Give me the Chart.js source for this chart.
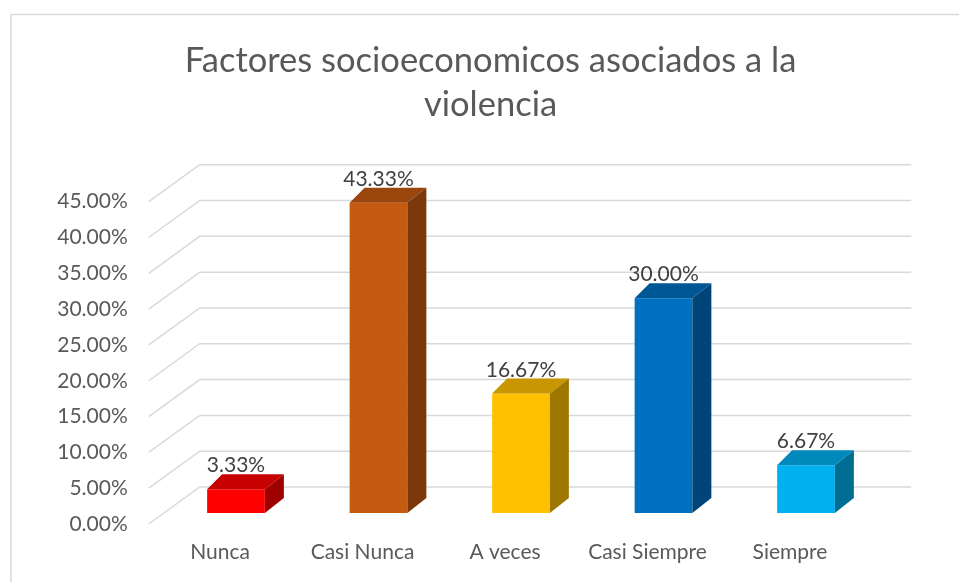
<!DOCTYPE html>
<html>
<head>
<meta charset="utf-8">
<script src="https://cdn.jsdelivr.net/npm/chart.js@4.4.1/dist/chart.umd.min.js"></script>
<style>
  body { margin: 0; background: #fff; }
  .chart-box { width: 959px; height: 582px; position: relative; }
</style>
</head>
<body>
<div class="chart-box"><canvas id="canvas"></canvas></div>
<script>
const categories = ['Nunca', 'Casi Nunca', 'A veces', 'Casi Siempre', 'Siempre'];
const percentages = [3.33, 43.33, 16.67, 30.00, 6.67];
const yMax = 45;
const yStep = 5;
const titleLines = ['Factores socioeconomicos asociados a la', 'violencia'];

const barColors = ['#FF0000', '#C55A11', '#FFC000', '#0070C0', '#00B0F0'];

// 3D look (pixels)
const DEPTH_DY = 15;
const DEPTH_DX_L = 15;
const DEPTH_DX_R = 19;
const FRONT_DX = -16;
const FRONT_DY = 11;
const WALL_DX = 51;
const WALL_DY = 37;
const WALL_RIGHT = 34;

function shade(hex, f) {
    const n = parseInt(hex.slice(1), 16);
    const r = Math.round(((n >> 16) & 255) * f);
    const g = Math.round(((n >> 8) & 255) * f);
    const b = Math.round((n & 255) * f);
    return `rgb(${r},${g},${b})`;
}

const frame3d = {
    id: 'frame3d',
    beforeDraw(chart) {
        const ctx = chart.ctx;
        ctx.save();
        ctx.strokeStyle = '#D9D9D9';
        ctx.lineWidth = 1.5;
        ctx.strokeRect(11, 14.5, 1200, 1200);
        ctx.restore();
    },
    beforeDatasetsDraw(chart) {
        const ctx = chart.ctx;
        const area = chart.chartArea;
        const scale = chart.scales.y;
        ctx.save();
        ctx.strokeStyle = '#D9D9D9';
        ctx.lineWidth = 1.5;
        scale.ticks.forEach(t => {
            const y = scale.getPixelForValue(t.value) + FRONT_DY;
            const x0 = area.left + FRONT_DX;
            ctx.beginPath();
            ctx.moveTo(x0, y);
            ctx.lineTo(x0 + WALL_DX, y - WALL_DY);
            ctx.lineTo(area.right + WALL_RIGHT, y - WALL_DY);
            ctx.stroke();
        });
        ctx.restore();
    },
    afterDatasetsDraw(chart) {
        const ctx = chart.ctx;
        const meta = chart.getDatasetMeta(0);
        ctx.save();
        meta.data.forEach((bar, i) => {
            const p = bar.getProps(['x', 'y', 'base', 'width'], true);
            const L = p.x - p.width / 2;
            const R = p.x + p.width / 2;
            const T = p.y;
            const B = p.base;
            const color = barColors[i];

            // top face
            ctx.fillStyle = shade(color, 0.78);
            ctx.beginPath();
            ctx.moveTo(L, T);
            ctx.lineTo(R, T);
            ctx.lineTo(R + DEPTH_DX_R, T - DEPTH_DY);
            ctx.lineTo(L + DEPTH_DX_L, T - DEPTH_DY);
            ctx.closePath();
            ctx.fill();

            // side face
            ctx.fillStyle = shade(color, 0.62);
            ctx.beginPath();
            ctx.moveTo(R, T);
            ctx.lineTo(R + DEPTH_DX_R, T - DEPTH_DY);
            ctx.lineTo(R + DEPTH_DX_R, B - DEPTH_DY);
            ctx.lineTo(R, B);
            ctx.closePath();
            ctx.fill();

            // value label
            ctx.fillStyle = '#404040';
            ctx.font = '21px Lato';
            ctx.textAlign = 'center';
            ctx.textBaseline = 'alphabetic';
            ctx.fillText(percentages[i].toFixed(2) + '%', p.x, T - DEPTH_DY - 2);
        });
        ctx.restore();
    }
};

const ctx = document.getElementById('canvas').getContext('2d');
const myChart = new Chart(ctx, {
    type: 'bar',
    data: {
        labels: categories,
        datasets: [{
            data: percentages,
            backgroundColor: barColors,
            borderWidth: 0,
            barPercentage: 0.405,
            categoryPercentage: 1,
            clip: false
        }]
    },
    options: {
        responsive: true,
        maintainAspectRatio: false,
        animation: false,
        layout: { padding: { left: 22, right: 0, top: 0, bottom: 0 } },
        plugins: {
            legend: { display: false },
            tooltip: { enabled: false },
            title: {
                display: true,
                text: titleLines,
                color: '#595959',
                font: { family: 'Lato', size: 34.5, weight: 'normal', lineHeight: 1.3 },
                padding: { top: 38, bottom: 63 }
            }
        },
        scales: {
            x: {
                grid: { display: false, drawTicks: false },
                border: { display: false },
                ticks: {
                    color: '#595959',
                    font: { family: 'Lato', size: 21 },
                    labelOffset: -16,
                    padding: 27,
                    maxRotation: 0
                },
                afterFit(scale) { scale.height = 69; }
            },
            y: {
                min: 0,
                max: yMax,
                grid: { display: false, drawTicks: false },
                border: { display: false },
                ticks: {
                    stepSize: yStep,
                    color: '#595959',
                    font: { family: 'Lato', size: 21 },
                    labelOffset: FRONT_DY,
                    padding: 37,
                    callback: v => v.toFixed(2) + '%'
                },
                afterFit(scale) { scale.width = 142.75; }
            },
            yRight: {
                position: 'right',
                display: true,
                grid: { display: false, drawTicks: false },
                border: { display: false },
                ticks: { display: false },
                afterFit(scale) { scale.width = 81.75; }
            }
        }
    },
    plugins: [frame3d]
});
</script>
</body>
</html>
